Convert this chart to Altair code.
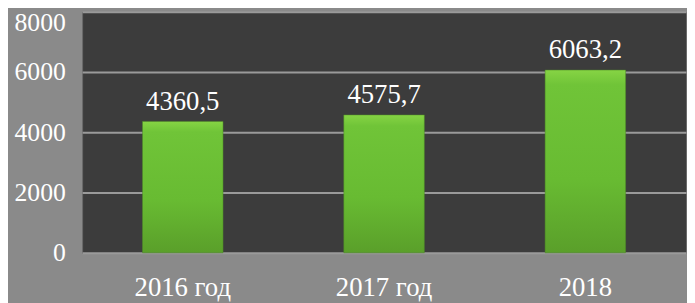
import altair as alt
import pandas as pd

categories = ["2016 год", "2017 год", "2018"]
values = [4360.5, 4575.7, 6063.2]
labels = ["4360,5", "4575,7", "6063,2"]
y_ticks = [0, 2000, 4000, 6000, 8000]

df = pd.DataFrame({"cat": categories, "val": values, "lab": labels})

FONT = "Times New Roman, Liberation Serif, serif"

x = alt.X("cat:N", sort=categories, title=None,
          scale=alt.Scale(paddingInner=0.6, paddingOuter=0.3),
          axis=alt.Axis(labelAngle=0, labelFont=FONT, labelFontSize=27, labelColor="white",
                        ticks=False, domain=False, labelPadding=22, grid=False))
y = alt.Y("val:Q", title=None, scale=alt.Scale(domain=[0, 8000], nice=False),
          axis=alt.Axis(values=y_ticks, format="d", labelFont=FONT, labelFontSize=26,
                        labelColor="white", ticks=False, domain=False, labelPadding=17,
                        labelOffset={"condition": {"test": "datum.value == 8000", "value": 11},
                                     "value": 0},
                        gridColor="#9a9a9a", gridWidth=2, gridOpacity=1))

bars = alt.Chart(df).mark_bar(
    color=alt.Gradient(gradient="linear", x1=0, x2=0, y1=0, y2=1,
                       stops=[alt.GradientStop(color="#86d444", offset=0),
                              alt.GradientStop(color="#70c438", offset=0.08),
                              alt.GradientStop(color="#68bb32", offset=0.6),
                              alt.GradientStop(color="#5a9f2a", offset=1)]),
    stroke="#4e8a26", strokeWidth=0.5
).encode(x=x, y=y)

text = alt.Chart(df).mark_text(
    font=FONT, fontSize=27, color="white", baseline="alphabetic", dy=-12
).encode(x=alt.X("cat:N", sort=categories), y="val:Q", text="lab:N")

chart = (bars + text).properties(
    width=611, height=244,
    background="#8a8a8a",
    padding={"left": 75, "top": 2, "right": 1, "bottom": 49},
    autosize=alt.AutoSizeParams(type="none"),
).configure_view(fill="#3c3c3c", stroke="#6a6a6a", strokeWidth=1)

chart.save("out.html", embed_options={"renderer": "svg", "actions": False})
